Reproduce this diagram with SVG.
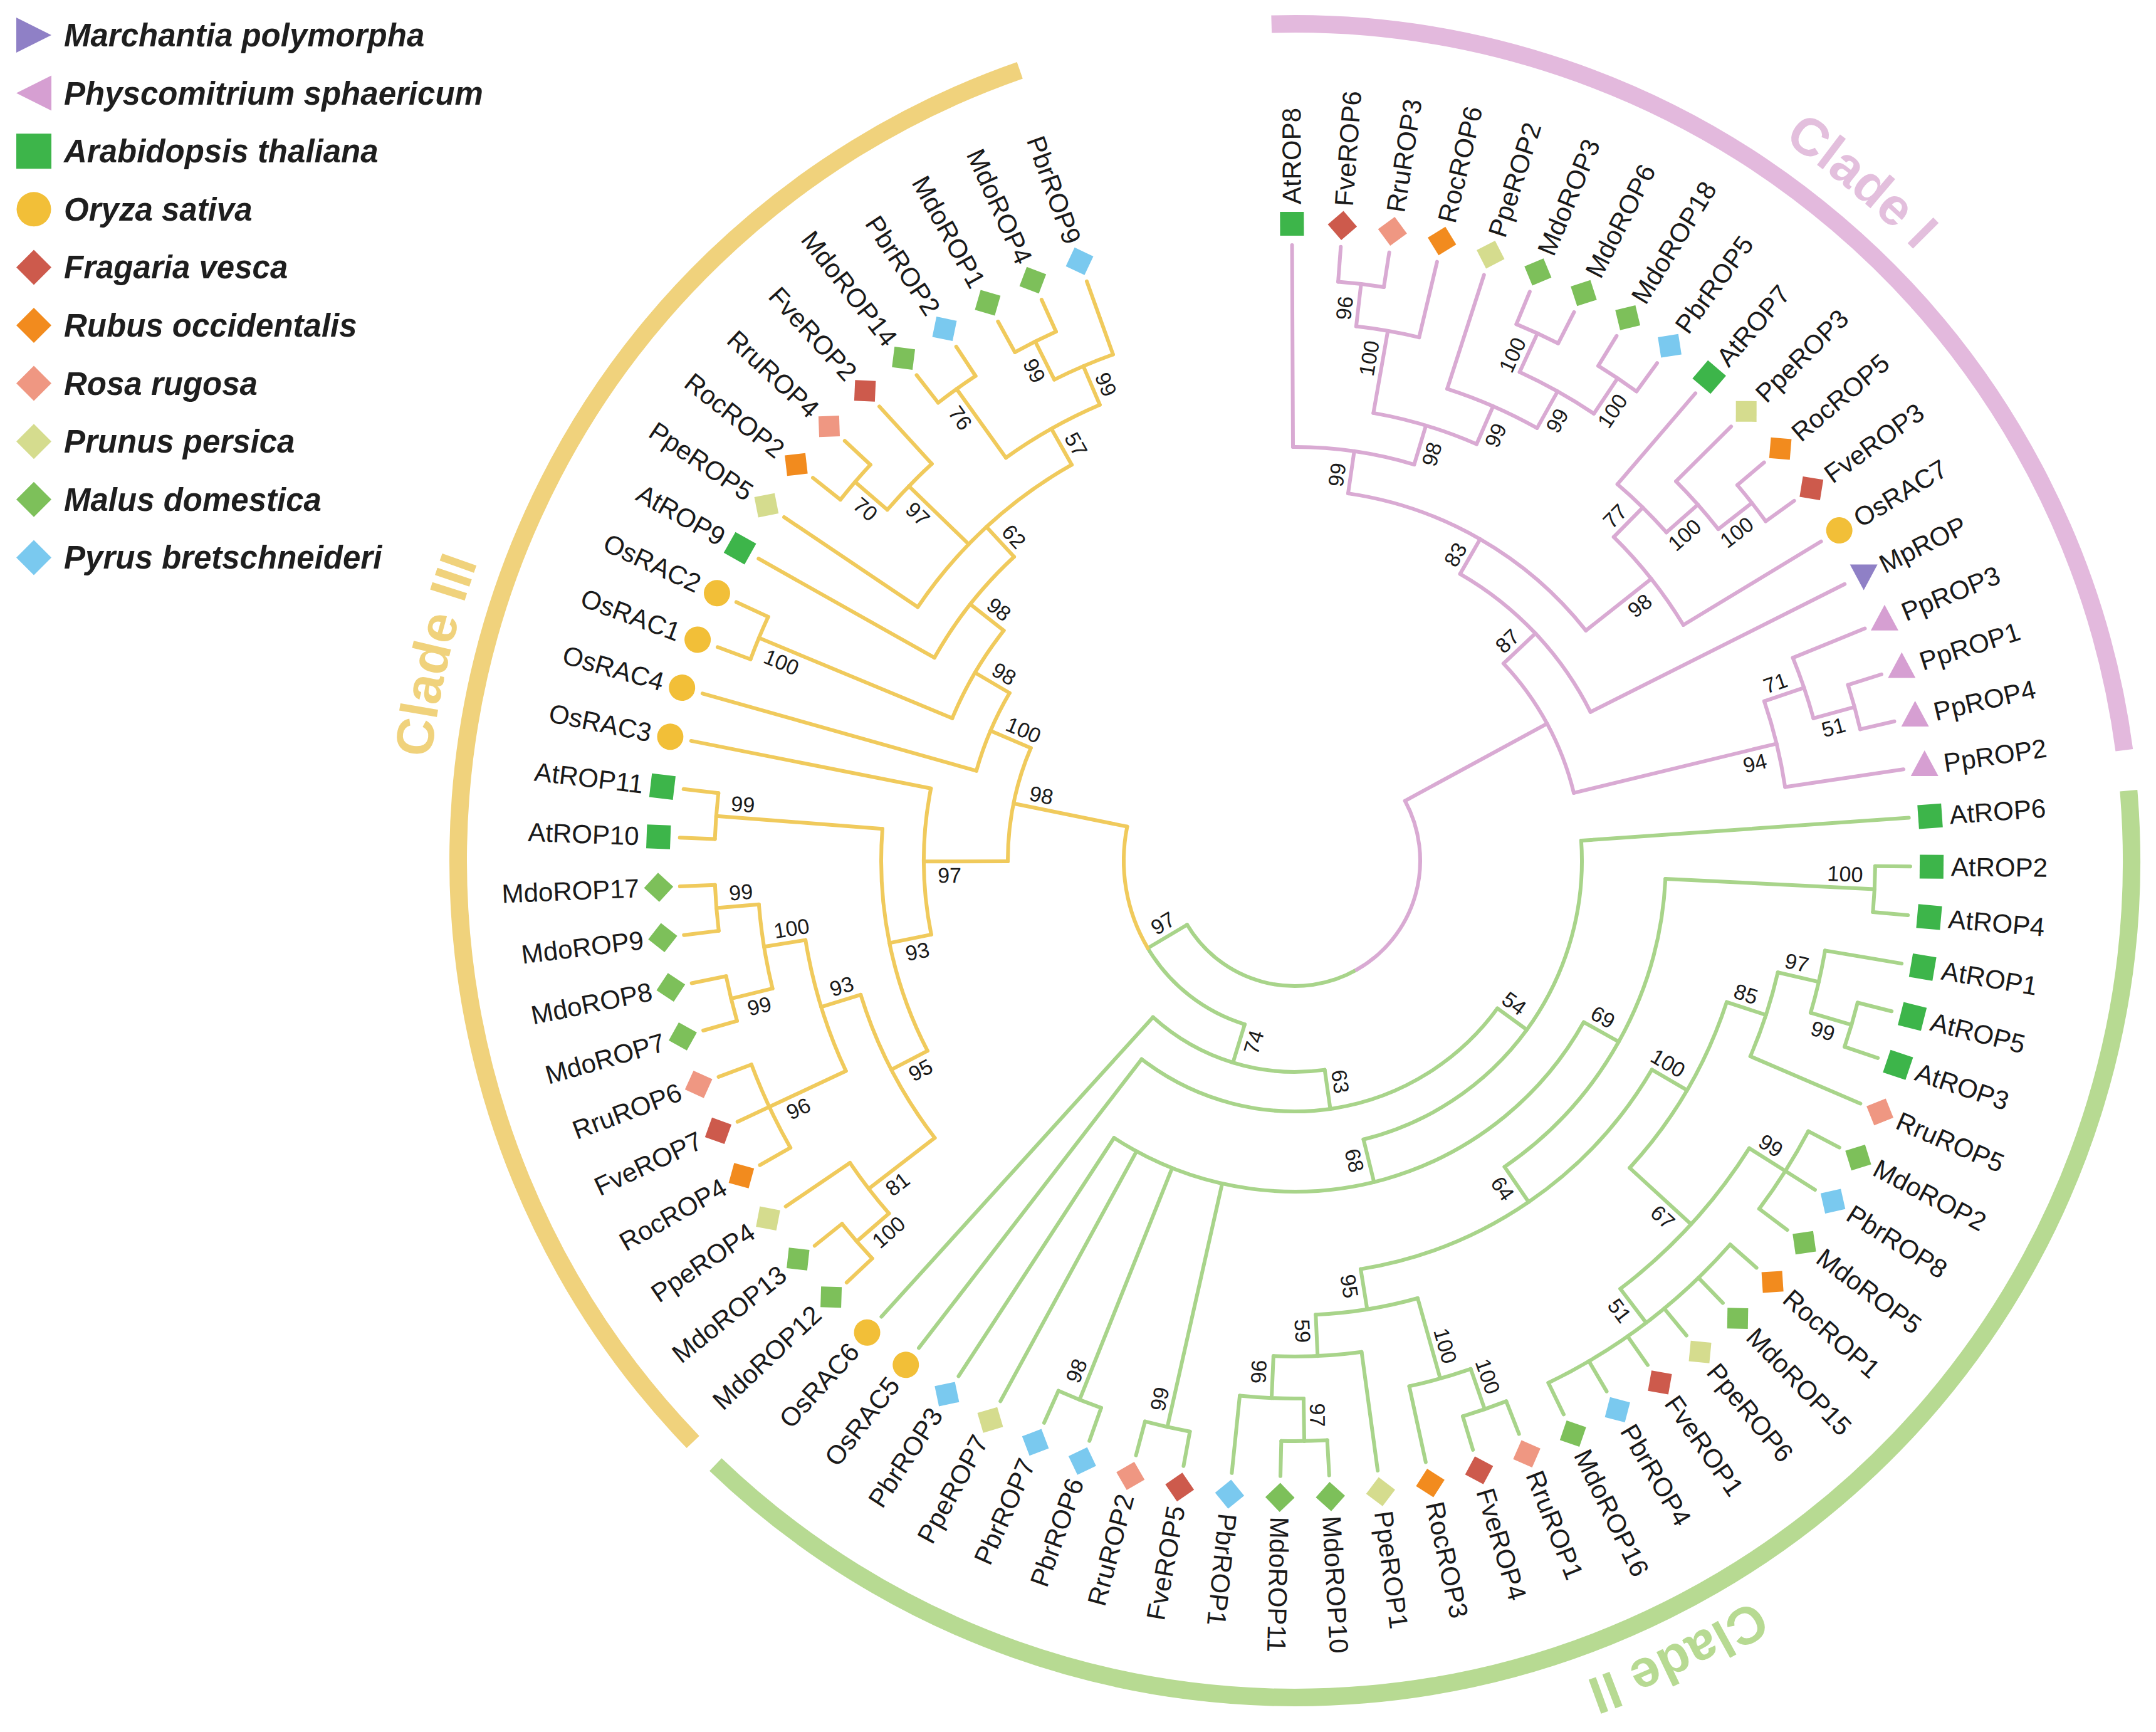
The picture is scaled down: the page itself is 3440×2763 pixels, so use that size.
<svg xmlns="http://www.w3.org/2000/svg" width="3440" height="2763" viewBox="0 0 3440 2763">
<defs>
<style>
.tg{fill:none;stroke:#a8d48a;stroke-width:6;stroke-linecap:round}
.ty{fill:none;stroke:#f0ca5c;stroke-width:6;stroke-linecap:round}
.tp{fill:none;stroke:#d9aad3;stroke-width:6;stroke-linecap:round}
.bar{fill:none;stroke-width:28}
.lb{font-family:"Liberation Sans",Arial,sans-serif;font-size:42px;fill:#1a1a1a;dominant-baseline:central}
.lf{font-family:"Liberation Sans",Arial,sans-serif;font-size:42px;fill:#1a1a1a;dominant-baseline:central;text-anchor:end}
.bs{font-family:"Liberation Sans",Arial,sans-serif;font-size:34px;fill:#1a1a1a;text-anchor:middle;dominant-baseline:central}
.lg{font-family:"Liberation Sans",Arial,sans-serif;font-size:51px;font-weight:bold;font-style:italic;fill:#1e1e1e}
.cl{font-family:"Liberation Sans",Arial,sans-serif;font-size:84px;font-weight:bold;text-anchor:middle}
</style>
<rect id="at" x="-19" y="-19" width="38" height="38" fill="#3db54a"/>
<circle id="os" r="21" fill="#f2bf38"/>
<rect id="fve" x="-16.5" y="-16.5" width="33" height="33" transform="rotate(45)" fill="#cd5a4c"/>
<rect id="roc" x="-16.5" y="-16.5" width="33" height="33" transform="rotate(45)" fill="#f28b1e"/>
<rect id="rru" x="-16.5" y="-16.5" width="33" height="33" transform="rotate(45)" fill="#ef9782"/>
<rect id="ppe" x="-16.5" y="-16.5" width="33" height="33" transform="rotate(45)" fill="#d5dc8e"/>
<rect id="mdo" x="-16.5" y="-16.5" width="33" height="33" transform="rotate(45)" fill="#7dc05a"/>
<rect id="pbr" x="-16.5" y="-16.5" width="33" height="33" transform="rotate(45)" fill="#7ac9ef"/>
<polygon id="pp" points="0,-25 22,16 -22,16" fill="#d69fd2"/>
<polygon id="mp" points="0,25 22,-16 -22,-16" fill="#8f80c6"/>
<path id="cladePath" d="M 1388 0 A 1388 1388 0 1 1 -1388 0 A 1388 1388 0 1 1 1388 0"/>
</defs>
<rect width="3440" height="2763" fill="#ffffff"/>

<g id="legend">
<polygon points="26,28 82,56 26,84" fill="#8f80c6"/><text class="lg" x="102" y="74">Marchantia polymorpha</text>
<polygon points="82,120.6 26,148.6 82,176.6" fill="#d69fd2"/><text class="lg" x="102" y="166.6">Physcomitrium sphaericum</text>
<rect x="26" y="213.2" width="56" height="56" fill="#3db54a"/><text class="lg" x="102" y="259.2">Arabidopsis thaliana</text>
<circle cx="54" cy="333.8" r="27.5" fill="#f2bf38"/><text class="lg" x="102" y="351.8">Oryza sativa</text>
<polygon points="54,398.4 82,426.4 54,454.4 26,426.4" fill="#cd5a4c"/><text class="lg" x="102" y="444.4">Fragaria vesca</text>
<polygon points="54,491 82,519 54,547 26,519" fill="#f28b1e"/><text class="lg" x="102" y="537">Rubus occidentalis</text>
<polygon points="54,583.6 82,611.6 54,639.6 26,611.6" fill="#ef9782"/><text class="lg" x="102" y="629.6">Rosa rugosa</text>
<polygon points="54,676.2 82,704.2 54,732.2 26,704.2" fill="#d5dc8e"/><text class="lg" x="102" y="722.2">Prunus persica</text>
<polygon points="54,768.8 82,796.8 54,824.8 26,796.8" fill="#7dc05a"/><text class="lg" x="102" y="814.8">Malus domestica</text>
<polygon points="54,861.4 82,889.4 54,917.4 26,889.4" fill="#7ac9ef"/><text class="lg" x="102" y="907.4">Pyrus bretschneideri</text>
</g>

<g id="clades" transform="translate(2066,1373)">
<circle class="bar" r="1335" stroke="#e3b9dd" transform="rotate(268.4)" stroke-dasharray="1957.2 9999"/>
<circle class="bar" r="1335" stroke="#f0d27c" transform="rotate(136)" stroke-dasharray="2674.9 9999"/>
<circle class="bar" r="1335" stroke="#b7da92" transform="rotate(-4.8)" stroke-dasharray="3229.4 9999"/>
<text class="cl" fill="#e3bfdd"><textPath href="#cladePath" startOffset="7505">Clade I</textPath></text>
<text class="cl" fill="#b7da92"><textPath href="#cladePath" startOffset="1558">Clade II</textPath></text>
<text class="cl" fill="#f0d27c"><textPath href="#cladePath" startOffset="4685">Clade III</textPath></text>
</g>

<g id="connectors" transform="translate(2066,1373)">
<g class="tg">
<line x1="458" x2="982" transform="rotate(-4)"/>
<line x1="926" x2="982" transform="rotate(0.54)"/>
<line x1="926" x2="982" transform="rotate(5.08)"/>
<line x1="858" x2="982" transform="rotate(9.62)"/>
<line x1="926" x2="982" transform="rotate(14.16)"/>
<line x1="926" x2="982" transform="rotate(18.70)"/>
<line x1="791" x2="982" transform="rotate(23.24)"/>
<line x1="926" x2="982" transform="rotate(27.78)"/>
<line x1="926" x2="982" transform="rotate(32.32)"/>
<line x1="926" x2="982" transform="rotate(36.86)"/>
<line x1="926" x2="982" transform="rotate(41.40)"/>
<line x1="926" x2="982" transform="rotate(45.94)"/>
<line x1="926" x2="982" transform="rotate(50.48)"/>
<line x1="926" x2="982" transform="rotate(55.02)"/>
<line x1="926" x2="982" transform="rotate(59.56)"/>
<line x1="926" x2="982" transform="rotate(64.10)"/>
<line x1="926" x2="982" transform="rotate(68.64)"/>
<line x1="926" x2="982" transform="rotate(73.18)"/>
<line x1="858" x2="982" transform="rotate(77.72)"/>
<line x1="791" x2="982" transform="rotate(82.26)"/>
<line x1="926" x2="982" transform="rotate(86.80)"/>
<line x1="926" x2="982" transform="rotate(91.34)"/>
<line x1="858" x2="982" transform="rotate(95.88)"/>
<line x1="926" x2="982" transform="rotate(100.42)"/>
<line x1="926" x2="982" transform="rotate(104.96)"/>
<line x1="926" x2="982" transform="rotate(109.50)"/>
<line x1="926" x2="982" transform="rotate(114.04)"/>
<line x1="528" x2="982" transform="rotate(118.58)"/>
<line x1="528" x2="982" transform="rotate(123.12)"/>
<line x1="400" x2="982" transform="rotate(127.66)"/>
<line x1="337" x2="982" transform="rotate(132.20)"/>
<line x1="592" x2="926" transform="rotate(2.81)"/>
<line x1="858" x2="926" transform="rotate(16.43)"/>
<line x1="791" x2="858" transform="rotate(13.025)"/>
<line x1="725" x2="791" transform="rotate(18.13)"/>
<line x1="858" x2="926" transform="rotate(32.32)"/>
<line x1="858" x2="926" transform="rotate(52.75)"/>
<line x1="725" x2="858" transform="rotate(42.535)"/>
<line x1="660" x2="725" transform="rotate(30.33)"/>
<line x1="858" x2="926" transform="rotate(70.91)"/>
<line x1="725" x2="858" transform="rotate(74.315)"/>
<line x1="858" x2="926" transform="rotate(89.07)"/>
<line x1="791" x2="858" transform="rotate(92.475)"/>
<line x1="725" x2="791" transform="rotate(87.3675)"/>
<line x1="660" x2="725" transform="rotate(80.84)"/>
<line x1="592" x2="660" transform="rotate(55.585)"/>
<line x1="528" x2="592" transform="rotate(29.1975)"/>
<line x1="528" x2="926" transform="rotate(102.69)"/>
<line x1="528" x2="926" transform="rotate(111.77)"/>
<line x1="458" x2="528" transform="rotate(76.16)"/>
<line x1="400" x2="458" transform="rotate(36.08)"/>
<line x1="337" x2="400" transform="rotate(81.87)"/>
<line x1="273" x2="337" transform="rotate(107.035)"/>
<line x1="200" x2="273" transform="rotate(149.26)"/>
<circle r="926" transform="rotate(0.54)" stroke-dasharray="73.37 9999"/>
<circle r="926" transform="rotate(14.16)" stroke-dasharray="73.37 9999"/>
<circle r="858" transform="rotate(9.62)" stroke-dasharray="101.98 9999"/>
<circle r="791" transform="rotate(13.025)" stroke-dasharray="141.02 9999"/>
<circle r="926" transform="rotate(27.78)" stroke-dasharray="146.75 9999"/>
<circle r="926" transform="rotate(41.40)" stroke-dasharray="366.87 9999"/>
<circle r="858" transform="rotate(32.32)" stroke-dasharray="305.94 9999"/>
<circle r="725" transform="rotate(18.13)" stroke-dasharray="308.81 9999"/>
<circle r="926" transform="rotate(68.64)" stroke-dasharray="73.37 9999"/>
<circle r="858" transform="rotate(70.91)" stroke-dasharray="101.98 9999"/>
<circle r="926" transform="rotate(86.80)" stroke-dasharray="73.37 9999"/>
<circle r="858" transform="rotate(89.07)" stroke-dasharray="101.98 9999"/>
<circle r="791" transform="rotate(82.26)" stroke-dasharray="141.02 9999"/>
<circle r="725" transform="rotate(74.315)" stroke-dasharray="165.16 9999"/>
<circle r="660" transform="rotate(30.33)" stroke-dasharray="581.84 9999"/>
<circle r="592" transform="rotate(2.81)" stroke-dasharray="545.29 9999"/>
<circle r="926" transform="rotate(100.42)" stroke-dasharray="73.37 9999"/>
<circle r="926" transform="rotate(109.50)" stroke-dasharray="73.37 9999"/>
<circle r="528" transform="rotate(29.1975)" stroke-dasharray="865.52 9999"/>
<circle r="458" transform="rotate(-4)" stroke-dasharray="640.77 9999"/>
<circle r="400" transform="rotate(36.08)" stroke-dasharray="639.35 9999"/>
<circle r="337" transform="rotate(81.87)" stroke-dasharray="296.03 9999"/>
<circle r="273" transform="rotate(107.035)" stroke-dasharray="201.19 9999"/>
<circle r="200" transform="rotate(60.375)" stroke-dasharray="310.27 9999"/>
</g>
<g class="ty">
<line x1="926" x2="982" transform="rotate(136.74)"/>
<line x1="926" x2="982" transform="rotate(141.28)"/>
<line x1="858" x2="982" transform="rotate(145.82)"/>
<line x1="926" x2="982" transform="rotate(150.36)"/>
<line x1="926" x2="982" transform="rotate(154.90)"/>
<line x1="926" x2="982" transform="rotate(159.44)"/>
<line x1="926" x2="982" transform="rotate(163.98)"/>
<line x1="926" x2="982" transform="rotate(168.52)"/>
<line x1="926" x2="982" transform="rotate(173.06)"/>
<line x1="926" x2="982" transform="rotate(177.60)"/>
<line x1="926" x2="982" transform="rotate(182.14)"/>
<line x1="926" x2="982" transform="rotate(186.68)"/>
<line x1="592" x2="982" transform="rotate(191.22)"/>
<line x1="528" x2="982" transform="rotate(195.76)"/>
<line x1="926" x2="982" transform="rotate(200.30)"/>
<line x1="926" x2="982" transform="rotate(204.84)"/>
<line x1="660" x2="982" transform="rotate(209.38)"/>
<line x1="725" x2="982" transform="rotate(213.92)"/>
<line x1="926" x2="982" transform="rotate(218.46)"/>
<line x1="926" x2="982" transform="rotate(223.00)"/>
<line x1="858" x2="982" transform="rotate(227.54)"/>
<line x1="926" x2="982" transform="rotate(232.08)"/>
<line x1="926" x2="982" transform="rotate(236.62)"/>
<line x1="926" x2="982" transform="rotate(241.16)"/>
<line x1="926" x2="982" transform="rotate(245.70)"/>
<line x1="858" x2="982" transform="rotate(250.24)"/>
<line x1="858" x2="926" transform="rotate(139.01)"/>
<line x1="725" x2="858" transform="rotate(142.415)"/>
<line x1="791" x2="926" transform="rotate(154.90)"/>
<line x1="858" x2="926" transform="rotate(166.25)"/>
<line x1="858" x2="926" transform="rotate(175.33)"/>
<line x1="791" x2="858" transform="rotate(170.79)"/>
<line x1="725" x2="791" transform="rotate(162.845)"/>
<line x1="660" x2="725" transform="rotate(152.63)"/>
<line x1="660" x2="926" transform="rotate(184.41)"/>
<line x1="592" x2="660" transform="rotate(168.52)"/>
<line x1="458" x2="592" transform="rotate(179.87)"/>
<line x1="592" x2="926" transform="rotate(202.57)"/>
<line x1="858" x2="926" transform="rotate(220.73)"/>
<line x1="725" x2="858" transform="rotate(224.135)"/>
<line x1="791" x2="926" transform="rotate(234.35)"/>
<line x1="858" x2="926" transform="rotate(243.43)"/>
<line x1="791" x2="858" transform="rotate(246.835)"/>
<line x1="725" x2="791" transform="rotate(240.5925)"/>
<line x1="660" x2="725" transform="rotate(227.256)"/>
<line x1="592" x2="660" transform="rotate(218.318)"/>
<line x1="528" x2="592" transform="rotate(210.444)"/>
<line x1="458" x2="528" transform="rotate(203.102)"/>
<line x1="273" x2="458" transform="rotate(191.486)"/>
<circle r="926" transform="rotate(136.74)" stroke-dasharray="73.37 9999"/>
<circle r="858" transform="rotate(139.01)" stroke-dasharray="101.98 9999"/>
<circle r="926" transform="rotate(150.36)" stroke-dasharray="146.75 9999"/>
<circle r="926" transform="rotate(163.98)" stroke-dasharray="73.37 9999"/>
<circle r="926" transform="rotate(173.06)" stroke-dasharray="73.37 9999"/>
<circle r="858" transform="rotate(166.25)" stroke-dasharray="135.97 9999"/>
<circle r="791" transform="rotate(154.90)" stroke-dasharray="219.37 9999"/>
<circle r="725" transform="rotate(142.415)" stroke-dasharray="258.51 9999"/>
<circle r="926" transform="rotate(182.14)" stroke-dasharray="73.37 9999"/>
<circle r="660" transform="rotate(152.63)" stroke-dasharray="366.08 9999"/>
<circle r="592" transform="rotate(168.52)" stroke-dasharray="234.54 9999"/>
<circle r="926" transform="rotate(200.30)" stroke-dasharray="73.37 9999"/>
<circle r="926" transform="rotate(218.46)" stroke-dasharray="73.37 9999"/>
<circle r="858" transform="rotate(220.73)" stroke-dasharray="101.98 9999"/>
<circle r="926" transform="rotate(232.08)" stroke-dasharray="73.37 9999"/>
<circle r="926" transform="rotate(241.16)" stroke-dasharray="73.37 9999"/>
<circle r="858" transform="rotate(243.43)" stroke-dasharray="101.98 9999"/>
<circle r="791" transform="rotate(234.35)" stroke-dasharray="172.36 9999"/>
<circle r="725" transform="rotate(213.92)" stroke-dasharray="337.50 9999"/>
<circle r="660" transform="rotate(209.38)" stroke-dasharray="205.92 9999"/>
<circle r="592" transform="rotate(202.57)" stroke-dasharray="162.71 9999"/>
<circle r="528" transform="rotate(195.76)" stroke-dasharray="135.32 9999"/>
<circle r="458" transform="rotate(179.87)" stroke-dasharray="185.71 9999"/>
<circle r="273" transform="rotate(149.26)" stroke-dasharray="201.19 9999"/>
</g>
<g class="tp">
<line x1="660" x2="982" transform="rotate(269.74)"/>
<line x1="926" x2="982" transform="rotate(274.28)"/>
<line x1="926" x2="982" transform="rotate(278.82)"/>
<line x1="858" x2="982" transform="rotate(283.36)"/>
<line x1="791" x2="982" transform="rotate(287.90)"/>
<line x1="926" x2="982" transform="rotate(292.44)"/>
<line x1="926" x2="982" transform="rotate(296.98)"/>
<line x1="926" x2="982" transform="rotate(301.52)"/>
<line x1="926" x2="982" transform="rotate(306.06)"/>
<line x1="791" x2="982" transform="rotate(310.60)"/>
<line x1="858" x2="982" transform="rotate(315.14)"/>
<line x1="926" x2="982" transform="rotate(319.68)"/>
<line x1="926" x2="982" transform="rotate(324.22)"/>
<line x1="725" x2="982" transform="rotate(328.76)"/>
<line x1="528" x2="982" transform="rotate(333.30)"/>
<line x1="858" x2="982" transform="rotate(337.84)"/>
<line x1="926" x2="982" transform="rotate(342.38)"/>
<line x1="926" x2="982" transform="rotate(346.92)"/>
<line x1="791" x2="982" transform="rotate(351.46)"/>
<line x1="858" x2="926" transform="rotate(276.55)"/>
<line x1="725" x2="858" transform="rotate(279.955)"/>
<line x1="858" x2="926" transform="rotate(294.71)"/>
<line x1="858" x2="926" transform="rotate(303.79)"/>
<line x1="791" x2="858" transform="rotate(299.25)"/>
<line x1="725" x2="791" transform="rotate(293.575)"/>
<line x1="660" x2="725" transform="rotate(286.765)"/>
<line x1="592" x2="660" transform="rotate(278.2525)"/>
<line x1="858" x2="926" transform="rotate(321.95)"/>
<line x1="791" x2="858" transform="rotate(318.545)"/>
<line x1="725" x2="791" transform="rotate(314.5725)"/>
<line x1="592" x2="725" transform="rotate(321.666)"/>
<line x1="528" x2="592" transform="rotate(299.96)"/>
<line x1="458" x2="528" transform="rotate(316.63)"/>
<line x1="858" x2="926" transform="rotate(344.65)"/>
<line x1="791" x2="858" transform="rotate(341.245)"/>
<line x1="458" x2="791" transform="rotate(346.35)"/>
<line x1="200" x2="458" transform="rotate(331.49)"/>
<circle r="926" transform="rotate(274.28)" stroke-dasharray="73.37 9999"/>
<circle r="858" transform="rotate(276.55)" stroke-dasharray="101.98 9999"/>
<circle r="926" transform="rotate(292.44)" stroke-dasharray="73.37 9999"/>
<circle r="926" transform="rotate(301.52)" stroke-dasharray="73.37 9999"/>
<circle r="858" transform="rotate(294.71)" stroke-dasharray="135.97 9999"/>
<circle r="791" transform="rotate(287.90)" stroke-dasharray="156.69 9999"/>
<circle r="725" transform="rotate(279.955)" stroke-dasharray="172.34 9999"/>
<circle r="660" transform="rotate(269.74)" stroke-dasharray="196.11 9999"/>
<circle r="926" transform="rotate(319.68)" stroke-dasharray="73.37 9999"/>
<circle r="858" transform="rotate(315.14)" stroke-dasharray="101.98 9999"/>
<circle r="791" transform="rotate(310.60)" stroke-dasharray="109.69 9999"/>
<circle r="725" transform="rotate(314.5725)" stroke-dasharray="179.52 9999"/>
<circle r="592" transform="rotate(278.2525)" stroke-dasharray="448.56 9999"/>
<circle r="528" transform="rotate(299.96)" stroke-dasharray="307.24 9999"/>
<circle r="926" transform="rotate(342.38)" stroke-dasharray="73.37 9999"/>
<circle r="858" transform="rotate(337.84)" stroke-dasharray="101.98 9999"/>
<circle r="791" transform="rotate(341.245)" stroke-dasharray="141.02 9999"/>
<circle r="458" transform="rotate(316.63)" stroke-dasharray="237.57 9999"/>
<circle r="200" transform="rotate(-28.51)" stroke-dasharray="310.27 9999"/>
</g>
</g>

<g id="bootstrap" transform="translate(2066,1373)">
<text class="bs" transform="rotate(2.81) translate(878,-22)">100</text>
<text class="bs" transform="rotate(16.43) translate(885,22)">99</text>
<text class="bs" transform="rotate(13.025) translate(817,-22)">97</text>
<text class="bs" transform="rotate(18.13) translate(750,-22)">85</text>
<text class="bs" transform="rotate(32.32) translate(885,-22)">99</text>
<text class="bs" transform="rotate(52.75) translate(885,22)">51</text>
<text class="bs" transform="rotate(42.535) translate(817,22)">67</text>
<text class="bs" transform="rotate(30.33) translate(677,-22)">100</text>
<text class="bs" transform="rotate(70.91) translate(878,-22)">100</text>
<text class="bs" transform="rotate(74.315) translate(810,-22)">100</text>
<text class="bs" transform="rotate(89.07) translate(885,-22)">97</text>
<text class="bs" transform="rotate(92.475) translate(817,22)">96</text>
<text class="bs" transform="rotate(87.3675) translate(750,22)">59</text>
<text class="bs" transform="rotate(80.84) translate(684,22)">95</text>
<text class="bs" transform="rotate(55.585) translate(619,22)">64</text>
<text class="bs" transform="rotate(29.1975) translate(551,-22)">69</text>
<text class="bs" transform="rotate(102.69) translate(885,22) rotate(180)">99</text>
<text class="bs" transform="rotate(111.77) translate(885,22) rotate(180)">98</text>
<text class="bs" transform="rotate(76.16) translate(487,22)">68</text>
<text class="bs" transform="rotate(36.08) translate(417,-22)">54</text>
<text class="bs" transform="rotate(81.87) translate(359,-22)">63</text>
<text class="bs" transform="rotate(107.035) translate(296,-22) rotate(180)">74</text>
<text class="bs" transform="rotate(149.26) translate(232,22) rotate(180)">97</text>
<text class="bs" transform="rotate(139.01) translate(878,-22) rotate(180)">100</text>
<text class="bs" transform="rotate(142.415) translate(817,-22) rotate(180)">81</text>
<text class="bs" transform="rotate(154.9) translate(885,-22) rotate(180)">96</text>
<text class="bs" transform="rotate(166.25) translate(885,-22) rotate(180)">99</text>
<text class="bs" transform="rotate(175.33) translate(885,22) rotate(180)">99</text>
<text class="bs" transform="rotate(170.79) translate(810,22) rotate(180)">100</text>
<text class="bs" transform="rotate(162.845) translate(750,22) rotate(180)">93</text>
<text class="bs" transform="rotate(152.63) translate(684,-22) rotate(180)">95</text>
<text class="bs" transform="rotate(184.41) translate(885,22) rotate(180)">99</text>
<text class="bs" transform="rotate(168.52) translate(619,-22) rotate(180)">93</text>
<text class="bs" transform="rotate(179.87) translate(551,-22) rotate(180)">97</text>
<text class="bs" transform="rotate(202.57) translate(878,-22) rotate(180)">100</text>
<text class="bs" transform="rotate(220.73) translate(885,-22) rotate(180)">70</text>
<text class="bs" transform="rotate(224.135) translate(817,-22) rotate(180)">97</text>
<text class="bs" transform="rotate(234.35) translate(885,-22) rotate(180)">76</text>
<text class="bs" transform="rotate(243.43) translate(885,-22) rotate(180)">99</text>
<text class="bs" transform="rotate(246.835) translate(817,22) rotate(180)">99</text>
<text class="bs" transform="rotate(240.5925) translate(750,22) rotate(180)">57</text>
<text class="bs" transform="rotate(227.256) translate(684,22) rotate(180)">62</text>
<text class="bs" transform="rotate(218.318) translate(619,22) rotate(180)">98</text>
<text class="bs" transform="rotate(210.444) translate(551,22) rotate(180)">98</text>
<text class="bs" transform="rotate(203.102) translate(480,22) rotate(180)">100</text>
<text class="bs" transform="rotate(191.486) translate(417,22) rotate(180)">98</text>
<text class="bs" transform="rotate(276.55) translate(885,-22)">96</text>
<text class="bs" transform="rotate(279.955) translate(810,-22)">100</text>
<text class="bs" transform="rotate(294.71) translate(878,-22)">100</text>
<text class="bs" transform="rotate(303.79) translate(878,22)">100</text>
<text class="bs" transform="rotate(299.25) translate(817,22)">99</text>
<text class="bs" transform="rotate(293.575) translate(750,22)">99</text>
<text class="bs" transform="rotate(286.765) translate(684,22)">98</text>
<text class="bs" transform="rotate(278.2525) translate(619,-22)">99</text>
<text class="bs" transform="rotate(321.95) translate(878,22)">100</text>
<text class="bs" transform="rotate(318.545) translate(810,22)">100</text>
<text class="bs" transform="rotate(314.5725) translate(750,-22)">77</text>
<text class="bs" transform="rotate(321.666) translate(684,22)">98</text>
<text class="bs" transform="rotate(299.96) translate(551,-22)">83</text>
<text class="bs" transform="rotate(316.63) translate(487,-22)">87</text>
<text class="bs" transform="rotate(344.65) translate(885,22)">51</text>
<text class="bs" transform="rotate(341.245) translate(817,-22)">71</text>
<text class="bs" transform="rotate(346.35) translate(750,22)">94</text>
</g>

<g id="leaves" transform="translate(2066,1373)">
<g id="AtROP6" transform="rotate(-4)"><use href="#at" x="1016"/><text class="lb" x="1047">AtROP6</text></g>
<g id="AtROP2" transform="rotate(0.54)"><use href="#at" x="1016"/><text class="lb" x="1047">AtROP2</text></g>
<g id="AtROP4" transform="rotate(5.08)"><use href="#at" x="1016"/><text class="lb" x="1047">AtROP4</text></g>
<g id="AtROP1" transform="rotate(9.62)"><use href="#at" x="1016"/><text class="lb" x="1047">AtROP1</text></g>
<g id="AtROP5" transform="rotate(14.16)"><use href="#at" x="1016"/><text class="lb" x="1047">AtROP5</text></g>
<g id="AtROP3" transform="rotate(18.70)"><use href="#at" x="1016"/><text class="lb" x="1047">AtROP3</text></g>
<g id="RruROP5" transform="rotate(23.24)"><use href="#rru" x="1016"/><text class="lb" x="1047">RruROP5</text></g>
<g id="MdoROP2" transform="rotate(27.78)"><use href="#mdo" x="1016"/><text class="lb" x="1047">MdoROP2</text></g>
<g id="PbrROP8" transform="rotate(32.32)"><use href="#pbr" x="1016"/><text class="lb" x="1047">PbrROP8</text></g>
<g id="MdoROP5" transform="rotate(36.86)"><use href="#mdo" x="1016"/><text class="lb" x="1047">MdoROP5</text></g>
<g id="RocROP1" transform="rotate(41.40)"><use href="#roc" x="1016"/><text class="lb" x="1047">RocROP1</text></g>
<g id="MdoROP15" transform="rotate(45.94)"><use href="#mdo" x="1016"/><text class="lb" x="1047">MdoROP15</text></g>
<g id="PpeROP6" transform="rotate(50.48)"><use href="#ppe" x="1016"/><text class="lb" x="1047">PpeROP6</text></g>
<g id="FveROP1" transform="rotate(55.02)"><use href="#fve" x="1016"/><text class="lb" x="1047">FveROP1</text></g>
<g id="PbrROP4" transform="rotate(59.56)"><use href="#pbr" x="1016"/><text class="lb" x="1047">PbrROP4</text></g>
<g id="MdoROP16" transform="rotate(64.10)"><use href="#mdo" x="1016"/><text class="lb" x="1047">MdoROP16</text></g>
<g id="RruROP1" transform="rotate(68.64)"><use href="#rru" x="1016"/><text class="lb" x="1047">RruROP1</text></g>
<g id="FveROP4" transform="rotate(73.18)"><use href="#fve" x="1016"/><text class="lb" x="1047">FveROP4</text></g>
<g id="RocROP3" transform="rotate(77.72)"><use href="#roc" x="1016"/><text class="lb" x="1047">RocROP3</text></g>
<g id="PpeROP1" transform="rotate(82.26)"><use href="#ppe" x="1016"/><text class="lb" x="1047">PpeROP1</text></g>
<g id="MdoROP10" transform="rotate(86.80)"><use href="#mdo" x="1016"/><text class="lb" x="1047">MdoROP10</text></g>
<g id="MdoROP11" transform="rotate(91.34)"><use href="#mdo" x="1016"/><text class="lb" x="1047">MdoROP11</text></g>
<g id="PbrROP1" transform="rotate(95.88)"><use href="#pbr" x="1016"/><text class="lb" x="1047">PbrROP1</text></g>
<g id="FveROP5" transform="rotate(100.42)"><use href="#fve" x="1016"/><text class="lf" transform="translate(1047,0) rotate(180)">FveROP5</text></g>
<g id="RruROP2" transform="rotate(104.96)"><use href="#rru" x="1016"/><text class="lf" transform="translate(1047,0) rotate(180)">RruROP2</text></g>
<g id="PbrROP6" transform="rotate(109.50)"><use href="#pbr" x="1016"/><text class="lf" transform="translate(1047,0) rotate(180)">PbrROP6</text></g>
<g id="PbrROP7" transform="rotate(114.04)"><use href="#pbr" x="1016"/><text class="lf" transform="translate(1047,0) rotate(180)">PbrROP7</text></g>
<g id="PpeROP7" transform="rotate(118.58)"><use href="#ppe" x="1016"/><text class="lf" transform="translate(1047,0) rotate(180)">PpeROP7</text></g>
<g id="PbrROP3" transform="rotate(123.12)"><use href="#pbr" x="1016"/><text class="lf" transform="translate(1047,0) rotate(180)">PbrROP3</text></g>
<g id="OsRAC5" transform="rotate(127.66)"><use href="#os" x="1016"/><text class="lf" transform="translate(1047,0) rotate(180)">OsRAC5</text></g>
<g id="OsRAC6" transform="rotate(132.20)"><use href="#os" x="1016"/><text class="lf" transform="translate(1047,0) rotate(180)">OsRAC6</text></g>
<g id="MdoROP12" transform="rotate(136.74)"><use href="#mdo" x="1016"/><text class="lf" transform="translate(1047,0) rotate(180)">MdoROP12</text></g>
<g id="MdoROP13" transform="rotate(141.28)"><use href="#mdo" x="1016"/><text class="lf" transform="translate(1047,0) rotate(180)">MdoROP13</text></g>
<g id="PpeROP4" transform="rotate(145.82)"><use href="#ppe" x="1016"/><text class="lf" transform="translate(1047,0) rotate(180)">PpeROP4</text></g>
<g id="RocROP4" transform="rotate(150.36)"><use href="#roc" x="1016"/><text class="lf" transform="translate(1047,0) rotate(180)">RocROP4</text></g>
<g id="FveROP7" transform="rotate(154.90)"><use href="#fve" x="1016"/><text class="lf" transform="translate(1047,0) rotate(180)">FveROP7</text></g>
<g id="RruROP6" transform="rotate(159.44)"><use href="#rru" x="1016"/><text class="lf" transform="translate(1047,0) rotate(180)">RruROP6</text></g>
<g id="MdoROP7" transform="rotate(163.98)"><use href="#mdo" x="1016"/><text class="lf" transform="translate(1047,0) rotate(180)">MdoROP7</text></g>
<g id="MdoROP8" transform="rotate(168.52)"><use href="#mdo" x="1016"/><text class="lf" transform="translate(1047,0) rotate(180)">MdoROP8</text></g>
<g id="MdoROP9" transform="rotate(173.06)"><use href="#mdo" x="1016"/><text class="lf" transform="translate(1047,0) rotate(180)">MdoROP9</text></g>
<g id="MdoROP17" transform="rotate(177.60)"><use href="#mdo" x="1016"/><text class="lf" transform="translate(1047,0) rotate(180)">MdoROP17</text></g>
<g id="AtROP10" transform="rotate(182.14)"><use href="#at" x="1016"/><text class="lf" transform="translate(1047,0) rotate(180)">AtROP10</text></g>
<g id="AtROP11" transform="rotate(186.68)"><use href="#at" x="1016"/><text class="lf" transform="translate(1047,0) rotate(180)">AtROP11</text></g>
<g id="OsRAC3" transform="rotate(191.22)"><use href="#os" x="1016"/><text class="lf" transform="translate(1047,0) rotate(180)">OsRAC3</text></g>
<g id="OsRAC4" transform="rotate(195.76)"><use href="#os" x="1016"/><text class="lf" transform="translate(1047,0) rotate(180)">OsRAC4</text></g>
<g id="OsRAC1" transform="rotate(200.30)"><use href="#os" x="1016"/><text class="lf" transform="translate(1047,0) rotate(180)">OsRAC1</text></g>
<g id="OsRAC2" transform="rotate(204.84)"><use href="#os" x="1016"/><text class="lf" transform="translate(1047,0) rotate(180)">OsRAC2</text></g>
<g id="AtROP9" transform="rotate(209.38)"><use href="#at" x="1016"/><text class="lf" transform="translate(1047,0) rotate(180)">AtROP9</text></g>
<g id="PpeROP5" transform="rotate(213.92)"><use href="#ppe" x="1016"/><text class="lf" transform="translate(1047,0) rotate(180)">PpeROP5</text></g>
<g id="RocROP2" transform="rotate(218.46)"><use href="#roc" x="1016"/><text class="lf" transform="translate(1047,0) rotate(180)">RocROP2</text></g>
<g id="RruROP4" transform="rotate(223.00)"><use href="#rru" x="1016"/><text class="lf" transform="translate(1047,0) rotate(180)">RruROP4</text></g>
<g id="FveROP2" transform="rotate(227.54)"><use href="#fve" x="1016"/><text class="lf" transform="translate(1047,0) rotate(180)">FveROP2</text></g>
<g id="MdoROP14" transform="rotate(232.08)"><use href="#mdo" x="1016"/><text class="lf" transform="translate(1047,0) rotate(180)">MdoROP14</text></g>
<g id="PbrROP2" transform="rotate(236.62)"><use href="#pbr" x="1016"/><text class="lf" transform="translate(1047,0) rotate(180)">PbrROP2</text></g>
<g id="MdoROP1" transform="rotate(241.16)"><use href="#mdo" x="1016"/><text class="lf" transform="translate(1047,0) rotate(180)">MdoROP1</text></g>
<g id="MdoROP4" transform="rotate(245.70)"><use href="#mdo" x="1016"/><text class="lf" transform="translate(1047,0) rotate(180)">MdoROP4</text></g>
<g id="PbrROP9" transform="rotate(250.24)"><use href="#pbr" x="1016"/><text class="lf" transform="translate(1047,0) rotate(180)">PbrROP9</text></g>
<g id="AtROP8" transform="rotate(269.74)"><use href="#at" x="1016"/><text class="lb" x="1047">AtROP8</text></g>
<g id="FveROP6" transform="rotate(274.28)"><use href="#fve" x="1016"/><text class="lb" x="1047">FveROP6</text></g>
<g id="RruROP3" transform="rotate(278.82)"><use href="#rru" x="1016"/><text class="lb" x="1047">RruROP3</text></g>
<g id="RocROP6" transform="rotate(283.36)"><use href="#roc" x="1016"/><text class="lb" x="1047">RocROP6</text></g>
<g id="PpeROP2" transform="rotate(287.90)"><use href="#ppe" x="1016"/><text class="lb" x="1047">PpeROP2</text></g>
<g id="MdoROP3" transform="rotate(292.44)"><use href="#mdo" x="1016"/><text class="lb" x="1047">MdoROP3</text></g>
<g id="MdoROP6" transform="rotate(296.98)"><use href="#mdo" x="1016"/><text class="lb" x="1047">MdoROP6</text></g>
<g id="MdoROP18" transform="rotate(301.52)"><use href="#mdo" x="1016"/><text class="lb" x="1047">MdoROP18</text></g>
<g id="PbrROP5" transform="rotate(306.06)"><use href="#pbr" x="1016"/><text class="lb" x="1047">PbrROP5</text></g>
<g id="AtROP7" transform="rotate(310.60)"><use href="#at" x="1016"/><text class="lb" x="1047">AtROP7</text></g>
<g id="PpeROP3" transform="rotate(315.14)"><use href="#ppe" x="1016"/><text class="lb" x="1047">PpeROP3</text></g>
<g id="RocROP5" transform="rotate(319.68)"><use href="#roc" x="1016"/><text class="lb" x="1047">RocROP5</text></g>
<g id="FveROP3" transform="rotate(324.22)"><use href="#fve" x="1016"/><text class="lb" x="1047">FveROP3</text></g>
<g id="OsRAC7" transform="rotate(328.76)"><use href="#os" x="1016"/><text class="lb" x="1047">OsRAC7</text></g>
<g id="MpROP" transform="rotate(333.30)"><use href="#mp" transform="translate(1016,0) rotate(-333.30)"/><text class="lb" x="1047">MpROP</text></g>
<g id="PpROP3" transform="rotate(337.84)"><use href="#pp" transform="translate(1016,0) rotate(-337.84)"/><text class="lb" x="1047">PpROP3</text></g>
<g id="PpROP1" transform="rotate(342.38)"><use href="#pp" transform="translate(1016,0) rotate(-342.38)"/><text class="lb" x="1047">PpROP1</text></g>
<g id="PpROP4" transform="rotate(346.92)"><use href="#pp" transform="translate(1016,0) rotate(-346.92)"/><text class="lb" x="1047">PpROP4</text></g>
<g id="PpROP2" transform="rotate(351.46)"><use href="#pp" transform="translate(1016,0) rotate(-351.46)"/><text class="lb" x="1047">PpROP2</text></g>
</g>
</svg>
